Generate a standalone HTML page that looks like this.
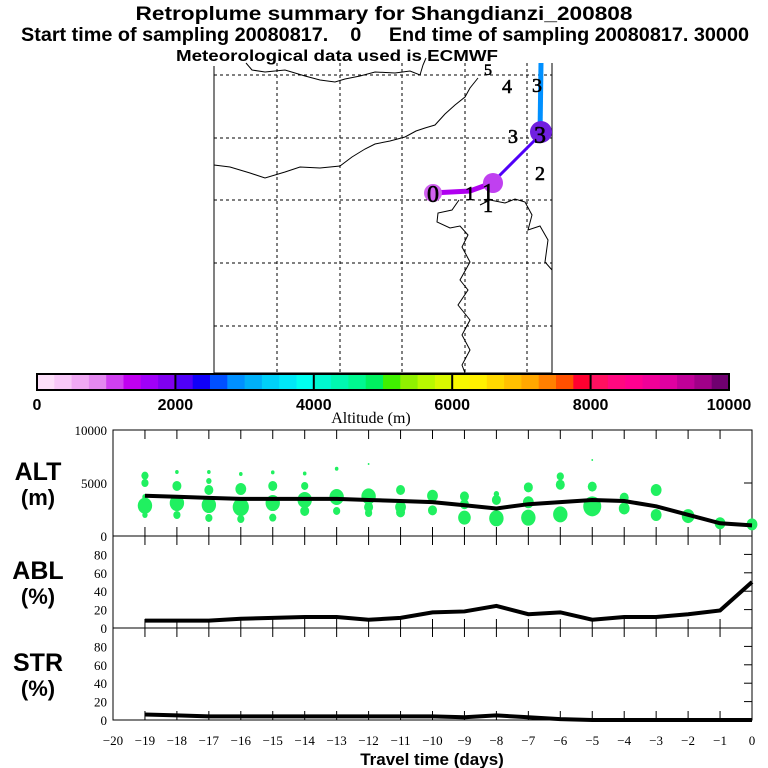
<!DOCTYPE html>
<html><head><meta charset="utf-8"><style>
body{margin:0;background:#fff;width:768px;height:768px;overflow:hidden}
svg{display:block}
text{font-family:"Liberation Sans",sans-serif}
.t{font-weight:bold;font-size:19px}
.s{font-family:"Liberation Serif",serif;font-size:13px}
</style></head><body>
<svg id="c" width="768" height="768">
<text class="t" x="384" y="20" text-anchor="middle" textLength="497" lengthAdjust="spacingAndGlyphs">Retroplume summary for Shangdianzi_200808</text>
<text class="t" x="385" y="41" text-anchor="middle" textLength="728" lengthAdjust="spacingAndGlyphs" xml:space="preserve">Start time of sampling 20080817.    0     End time of sampling 20080817. 30000</text>
<text x="337" y="61" text-anchor="middle" font-weight="bold" font-size="16" textLength="322" lengthAdjust="spacingAndGlyphs">Meteorological data used is ECMWF</text>
<g id="map"></g>
<g id="cbar"></g>
<g id="plots"></g>
</svg>
<script>
const NS="http://www.w3.org/2000/svg";
function mk(p,tag,a,txt){const e=document.createElementNS(NS,tag);for(const k in a)e.setAttribute(k,a[k]);if(txt!==undefined)e.textContent=txt;p.appendChild(e);return e;}
// ---- data ----
const days=[-19,-18,-17,-16,-15,-14,-13,-12,-11,-10,-9,-8,-7,-6,-5,-4,-3,-2,-1,0];
const altMean=[3800,3700,3600,3500,3500,3500,3500,3400,3300,3200,2900,2600,3000,3200,3400,3300,2800,2000,1200,1000];
const ablPct=[8,8,8,10,11,12,12,9,11,17,18,24,15,17,9,12,12,15,19,50];
const strPct=[6,5,4,4,4,4,4,4,4,4,3,5,3,1,0,0,0,0,0,0];
const dotDay=[-19,-19,-19,-19,-19, -18,-18,-18,-18, -17,-17,-17,-17,-17, -16,-16,-16,-16, -15,-15,-15,-15, -14,-14,-14,-14, -13,-13,-13, -12,-12,-12,-12, -11,-11,-11, -10,-10, -9,-9,-9, -8,-8,-8, -7,-7,-7, -6,-6,-6, -5,-5,-5, -4,-4, -3,-3, -2, -1, 0];
const dotAlt=[5690,5000,3680,2860,1980, 6040,4720,3110,1980, 6040,5190,4340,2920,1700, 5850,4430,2730,1600, 6000,4720,3110,1730, 5900,4720,3400,2360, 6350,3680,2360, 6790,3740,2730,2170, 4340,2730,2230, 3800,2420, 3740,3000,1730, 3960,3400,1670, 4590,3180,1730, 5630,4840,2040, 7170,4660,2800, 3620,2600, 4340,1980, 1880, 1200, 1100];
const dotR=[4,4,3,8,3, 2,5,8,4, 2,3,5,8,4, 2,6,9,4, 2,5,8,4, 2,4,8,5, 2,8,4, 1,8,5,4, 5,6,5, 6,5, 5,5,7, 3,5,8, 5,6,8, 4,5,8, 1,5,10, 5,6, 6,6, 7, 6, 6];
// ---- colorbar ----
const cbColors=["#fde0fa","#f8c8f8","#f0a8f4","#e488f0","#d040f0","#c000f0","#a000f8","#8000f0","#5000f8","#1000f8","#0050ff","#0090ff","#00b0f8","#00d0f8","#00e8f8","#00fff0","#00f8d0","#00f8b0","#00f890","#00f060","#40f000","#90f000","#b8f800","#d8f800","#f8f800","#fff000","#ffd800","#ffc000","#ffa800","#ff8000","#ff5000","#ff0030","#ff1060","#ff0880","#ff0090","#f00098","#e000a0","#c00098","#a00088","#700070"];
const cbTicks=[0,2000,4000,6000,8000,10000];
const cb=document.getElementById('cbar');
const cx0=37,cx1=729,cy=374,ch=16;
const cxs=v=>cx0+(cx1-cx0)*v/10000;
cbColors.forEach((c,i)=>{const r=mk(cb,'rect',{x:cxs(i*250),y:cy,width:cxs(250)-cx0+0.5,height:ch,fill:c});

});
mk(cb,'rect',{x:cx0,y:cy,width:cx1-cx0,height:ch,fill:'none',stroke:'#000','stroke-width':2});
cbTicks.forEach(v=>{if(v>0&&v<10000)mk(cb,'line',{x1:cxs(v),x2:cxs(v),y1:cy,y2:cy+ch,stroke:'#000','stroke-width':2});
const t=mk(cb,'text',{x:cxs(v),y:cy+36,'text-anchor':'middle','font-weight':'bold','font-size':16},String(v));

});
mk(cb,'text',{x:371,y:423,'text-anchor':'middle','class':'s',style:'font-size:16px'},'Altitude (m)');
// ---- map ----
const mp=document.getElementById('map');
[277,340,402,465,527].forEach(x=>mk(mp,'line',{x1:x,x2:x,y1:63,y2:373,stroke:'#000','stroke-dasharray':'3,3','stroke-width':1}));
[75,138,200,263,326].forEach(y=>mk(mp,'line',{x1:214,x2:552,y1:y,y2:y,stroke:'#000','stroke-dasharray':'3,3','stroke-width':1}));
mk(mp,'polyline',{points:'214,66 214,373 552,373 552,63',fill:'none',stroke:'#000','stroke-width':1});
const coast=['246,63 252,70 265,72 285,70 305,76 320,80 335,82 345,79 360,76 375,72 395,73 410,71 420,75 423,65 426,58',
'214,165 230,167 250,173 265,178 285,172 300,167 320,168 340,166 352,157 365,149 375,144 390,141 405,137 416,131 425,128 435,125 445,114 455,105 465,97 470,88 478,78',
'459,200 452,210 438,213 437,222 450,228 460,226 468,235 462,247 470,262 460,280 468,290 458,305 470,320 462,335 470,350 462,365 465,373',
'480,205 490,200 505,203 515,199 525,202 532,215 528,230 540,226 548,240 545,262 552,270'];
coast.forEach(p=>mk(mp,'polyline',{points:p,fill:'none',stroke:'#000','stroke-width':1}));
mk(mp,'polyline',{points:'432,193 470,191 492,183',fill:'none',stroke:'#b000f0','stroke-width':5});
mk(mp,'polyline',{points:'492,183 540,135',fill:'none',stroke:'#5000f8','stroke-width':3});
mk(mp,'line',{x1:540,x2:541,y1:135,y2:63,stroke:'#0090ff','stroke-width':5});
mk(mp,'circle',{cx:493,cy:183,r:10,fill:'#c040f0'});
mk(mp,'circle',{cx:541,cy:132,r:11,fill:'#7020e0'});
mk(mp,'circle',{cx:433,cy:193,r:9,fill:'#d060f0'});
[['0',433,202,24],['1',470,200,20],['1',488,200,24],['1',488,212,20],['2',540,180,20],['3',513,143,20],['3',540,143,24],['4',507,93,20],['5',488,75,16],['3',537,92,20]].forEach(d=>{
const t=mk(mp,'text',{x:d[1],y:d[2],'text-anchor':'middle',style:'font-family:"Liberation Serif",serif;font-size:'+d[3]+'px',stroke:'#000','stroke-width':0.6},d[0]);

});
// ---- panels ----
const pl=document.getElementById('plots');
const X0=113,X1=752;
const xs=d=>X0+(X1-X0)*(d+20)/20;
const panels=[{name:'ALT',unit:'(m)',top:430,bot:536,max:10000,ticks:[0,5000,10000],series:altMean},
{name:'ABL',unit:'(%)',top:536,bot:628,max:100,ticks:[0,20,40,60,80],series:ablPct},
{name:'STR',unit:'(%)',top:628,bot:720,max:100,ticks:[0,20,40,60,80],series:strPct}];
panels.forEach((P,pi)=>{
const ys=v=>P.bot-(P.bot-P.top)*v/P.max;
const g=mk(pl,'g',{});


mk(g,'rect',{x:X0,y:P.top,width:X1-X0,height:P.bot-P.top,fill:'none',stroke:'#000','stroke-width':1});
for(let d=-19;d<0;d++){mk(g,'line',{x1:xs(d),x2:xs(d),y1:P.top,y2:P.top+9,stroke:'#000'});mk(g,'line',{x1:xs(d),x2:xs(d),y1:P.bot,y2:P.bot-9,stroke:'#000'});}
P.ticks.forEach(v=>{mk(g,'line',{x1:X1,x2:X1-8,y1:ys(v),y2:ys(v),stroke:'#000'});
const t=mk(g,'text',{x:X0-6,y:ys(v)+5,'text-anchor':'end','class':'s'},String(v));

});
mk(g,'text',{x:38,y:(P.top+P.bot)/2-3,'text-anchor':'middle','font-weight':'bold','font-size':25},P.name);
mk(g,'text',{x:38,y:(P.top+P.bot)/2+22,'text-anchor':'middle','font-weight':'bold','font-size':22},P.unit);
if(pi===0){dotDay.forEach((d,i)=>{const c=mk(g,'ellipse',{cx:xs(d),cy:ys(dotAlt[i]),rx:dotR[i]*0.9,ry:dotR[i],fill:'#20f060'});

});}
const ln=mk(g,'polyline',{points:days.map((d,i)=>xs(d)+','+ys(P.series[i])).join(' '),fill:'none',stroke:'#000','stroke-width':4});


});
for(let d=-20;d<=0;d++){const t=mk(pl,'text',{x:xs(d),y:745,'text-anchor':'middle','class':'s'},d===0?'0':'\u2212'+(-d));

}
const xt=mk(pl,'text',{x:432,y:765,'text-anchor':'middle','font-weight':'bold','font-size':17},'Travel time (days)');


</script>
</body></html>
